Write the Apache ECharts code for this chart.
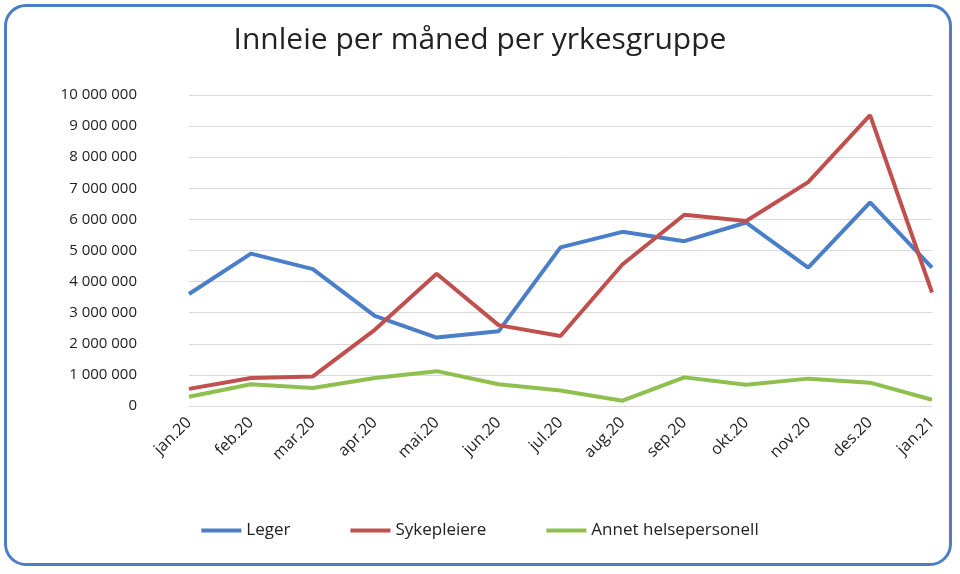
<!DOCTYPE html>
<html><head><meta charset="utf-8">
<script src="https://cdn.jsdelivr.net/npm/echarts@6/dist/echarts.min.js"></script>
<style>html,body{margin:0;padding:0;background:#fff}
#box{position:absolute;left:4px;top:4px;width:948px;height:562px;border:3px solid #4a7ec9;border-radius:22px;box-sizing:border-box}
#c{position:absolute;left:0;top:0;width:960px;height:574px}</style>
</head><body><div id="box"></div><div id="c"></div>
<script>
const categories=['jan.20','feb.20','mar.20','apr.20','mai.20','jun.20','jul.20','aug.20','sep.20','okt.20','nov.20','des.20','jan.21'];
const leger=[3600000,4900000,4400000,2900000,2200000,2400000,5100000,5600000,5300000,5900000,4450000,6550000,4450000];
const sykepleiere=[550000,900000,950000,2450000,4250000,2600000,2250000,4550000,6150000,5950000,7200000,9350000,3650000];
const annet=[300000,700000,580000,900000,1120000,700000,500000,170000,920000,680000,880000,750000,200000];
const chart=echarts.init(document.getElementById('c'));
const fmt=v=>String(v).replace(/\B(?=(\d{3})+(?!\d))/g,' ');
const font='"Open Sans", Calibri, sans-serif';
chart.setOption({
  textStyle:{fontFamily:font},
  title:{text:'Innleie per måned per yrkesgruppe',left:'center',top:20,textStyle:{fontSize:30,fontWeight:'normal',color:'#222',fontFamily:font}},
  grid:{left:189,right:28,top:95,bottom:168},
  legend:{bottom:30,left:'center',itemGap:60,icon:'rect',itemWidth:40,itemHeight:4,textStyle:{fontSize:17,color:'#222'}},
  xAxis:{type:'category',data:categories,boundaryGap:false,axisTick:{show:false},axisLine:{show:false},
    axisLabel:{rotate:45,fontSize:16,color:'#222',margin:14}},
  yAxis:{type:'value',min:0,max:10000000,interval:1000000,axisLabel:{formatter:fmt,fontSize:15,color:'#222',margin:52},
    splitLine:{lineStyle:{color:'#d9d9d9'}}},
  series:[
    {name:'Leger',type:'line',data:leger,symbol:'none',lineStyle:{width:4,color:'#4a7ec9'},itemStyle:{color:'#4a7ec9'}},
    {name:'Sykepleiere',type:'line',data:sykepleiere,symbol:'none',lineStyle:{width:4,color:'#c0504d'},itemStyle:{color:'#c0504d'}},
    {name:'Annet helsepersonell',type:'line',data:annet,symbol:'none',lineStyle:{width:4,color:'#8fc04f'},itemStyle:{color:'#8fc04f'}}
  ]
});
</script></body></html>
